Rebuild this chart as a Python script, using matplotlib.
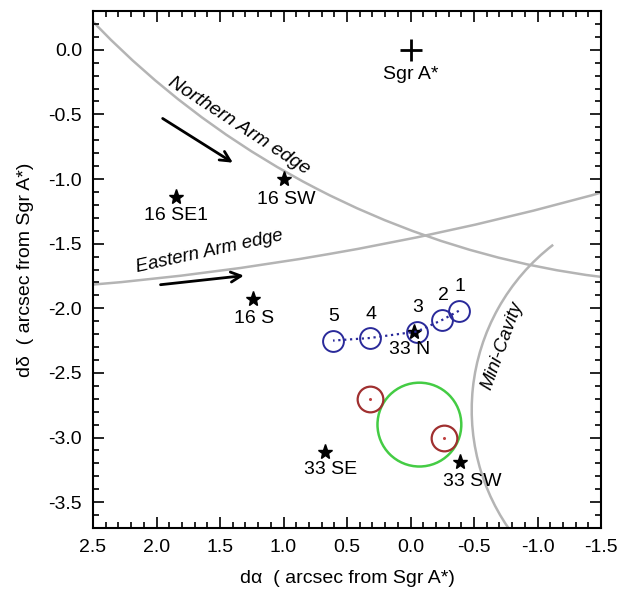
import matplotlib.pyplot as plt
from matplotlib.patches import Arc, Ellipse
from matplotlib.ticker import MultipleLocator

plt.rcParams['font.family'] = ['Liberation Sans', 'DejaVu Sans']
plt.rcParams['axes.unicode_minus'] = False

# stars (arcsec offsets from Sgr A*)
star_names = ['16 SW', '16 SE1', '16 S', '33 N', '33 SE', '33 SW']
star_x = [1.0, 1.85, 1.24, -0.03, 0.67, -0.39]
star_y = [-1.0, -1.14, -1.93, -2.18, -3.11, -3.19]

# blue numbered positions
blue_names = ['1', '2', '3', '4', '5']
blue_x = [-0.38, -0.25, -0.05, 0.32, 0.61]
blue_y = [-2.02, -2.09, -2.18, -2.23, -2.25]

# red circles
red_x = [0.32, -0.26]
red_y = [-2.70, -3.00]

# green circle: centre and radius
green_xy = (-0.07, -2.90)
green_r = 0.33

# arrows (tail, head)
arrow_north = ((1.97, -0.52), (1.38, -0.885))
arrow_east = ((1.99, -1.82), (1.29, -1.745))

# edges as circular arcs: centre, radius, angle range
north_c, north_r, north_th = (-2.338, 4.78), 6.706, (265, 330)
east_c, east_r, east_th = (4.395, 19.67), 21.95, (250, 270)
cavity_c, cavity_r, cavity_th = (-2.122, -2.787), 1.64, (-40, 52)

fig = plt.figure(figsize=(6.18, 5.99), dpi=100)
ax = fig.add_axes([93 / 618, 1 - 528 / 599, 508 / 618, 517 / 599])

grey = '#b4b4b4'
sx = 127 / 129.25
for c, r, th in ((north_c, north_r, north_th), (east_c, east_r, east_th),
                 (cavity_c, cavity_r, cavity_th)):
    ax.add_patch(Arc(c, 2 * r, 2 * r * sx, theta1=th[0], theta2=th[1], color=grey, lw=1.8))

ax.add_patch(Ellipse(green_xy, 2 * green_r, 2 * green_r * sx, fill=False, color='#44cc44', lw=1.8))

ax.plot(0, 0, marker='+', ms=16, mew=2, color='black')
ax.annotate('Sgr A*', (0, 0), xytext=(0, -25), textcoords='offset pixels',
            ha='center', va='center', fontsize=14)

ax.plot(star_x, star_y, ls='none', marker='*', ms=11, color='black')
label_off = [(3, -20), (0, -18), (1, -19), (-5, -18), (5, -18), (12, -19)]
for n, x, y, off in zip(star_names, star_x, star_y, label_off):
    ax.annotate(n, (x, y), xytext=off, textcoords='offset pixels',
                ha='center', va='center', fontsize=14)

ax.plot(blue_x, blue_y, ls=':', lw=1.6, color='#2a2a9a')
ax.plot(blue_x, blue_y, ls='none', marker='o', ms=15, mfc='none', mec='#2a2a9a', mew=1.4)
for n, x, y in zip(blue_names, blue_x, blue_y):
    ax.annotate(n, (x, y), xytext=(1, 24), textcoords='offset pixels',
                ha='center', va='center', fontsize=14)

ax.plot(red_x, red_y, ls='none', marker='o', ms=18.5, mfc='none', mec='#a03030', mew=1.6)
ax.plot(red_x, red_y, ls='none', marker='o', ms=1.2, color='#c04040')

for tail, head in (arrow_north, arrow_east):
    ax.annotate('', xy=head, xytext=tail,
                arrowprops=dict(arrowstyle='->', lw=2, color='black', mutation_scale=18))

ax.text(1.35, -0.59, 'Northern Arm edge', rotation=-33, style='italic', fontsize=14,
        ha='center', va='center', rotation_mode='anchor')
ax.text(1.58, -1.56, 'Eastern Arm edge', rotation=12.4, style='italic', fontsize=13.5,
        ha='center', va='center', rotation_mode='anchor')
ax.text(-0.72, -2.29, 'Mini-Cavity', rotation=70, style='italic', fontsize=13.5,
        ha='center', va='center', rotation_mode='anchor')

ax.set_xlim(2.5, -1.5)
ax.set_ylim(-3.7, 0.3)
ax.xaxis.set_major_locator(MultipleLocator(0.5))
ax.xaxis.set_minor_locator(MultipleLocator(0.1))
ax.yaxis.set_major_locator(MultipleLocator(0.5))
ax.yaxis.set_minor_locator(MultipleLocator(0.1))
ax.xaxis.set_major_formatter('{x:.1f}')
ax.yaxis.set_major_formatter('{x:.1f}')
ax.tick_params(which='both', direction='in', top=True, right=True, labelsize=14, width=1.2)
ax.tick_params(which='major', length=8, pad=8)
ax.tick_params(which='minor', length=4)
for s in ax.spines.values():
    s.set_linewidth(1.5)

ax.set_xlabel('dα  ( arcsec from Sgr A*)', fontsize=14, labelpad=10)
ax.set_ylabel('dδ  ( arcsec from Sgr A*)', fontsize=14, labelpad=10)

fig.savefig('out.png', dpi=100)
